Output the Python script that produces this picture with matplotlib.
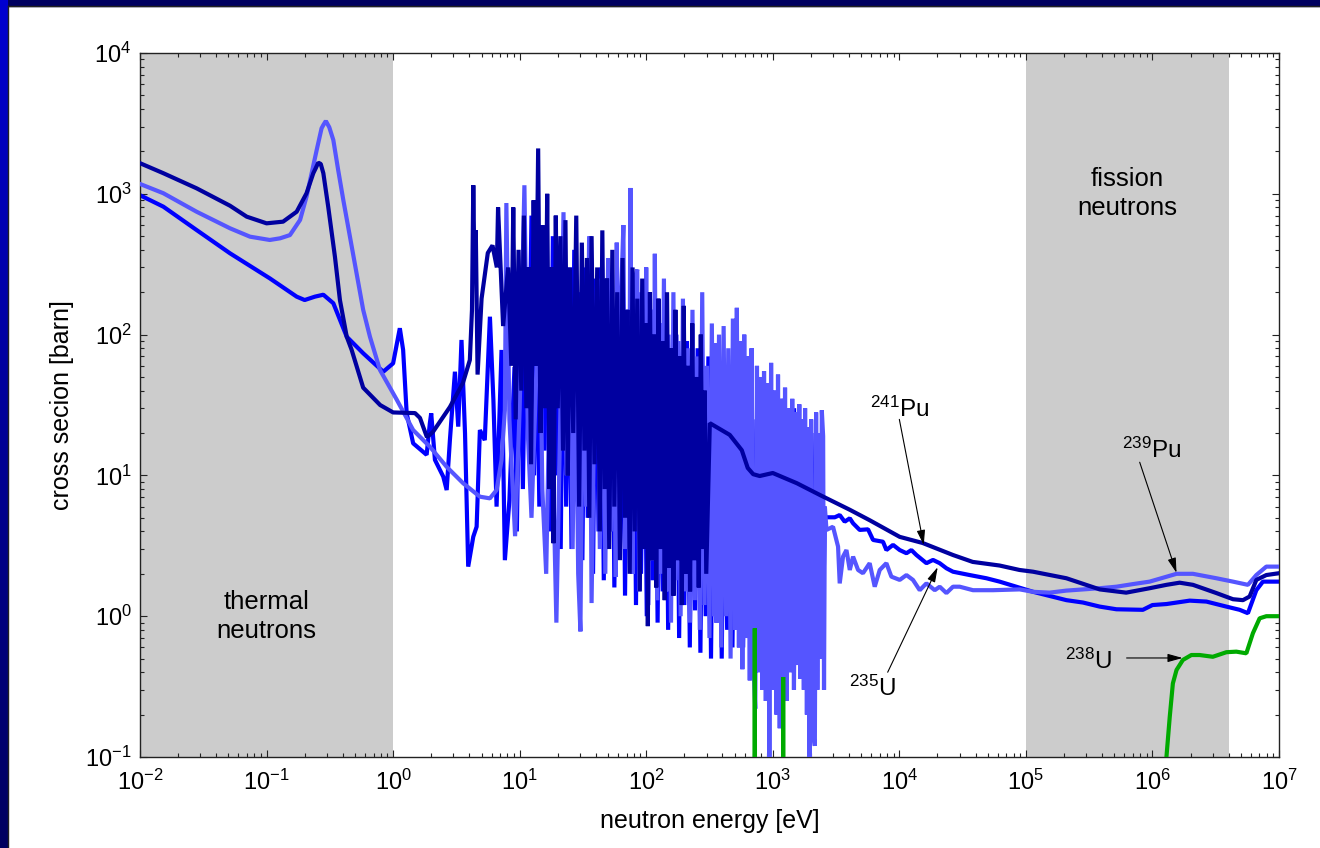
import numpy as np
import matplotlib
matplotlib.use('Agg')
import matplotlib.pyplot as plt
from matplotlib.colors import LinearSegmentedColormap
from matplotlib.patches import Rectangle
from matplotlib.lines import Line2D
from matplotlib.ticker import LogLocator, FixedLocator, LogFormatterSciNotation

plt.rcParams['font.family'] = ['Liberation Sans', 'DejaVu Sans']
plt.rcParams['mathtext.fontset'] = 'custom'
plt.rcParams['mathtext.rm'] = 'Liberation Sans'
plt.rcParams['mathtext.it'] = 'Liberation Sans:italic'
plt.rcParams['mathtext.bf'] = 'Liberation Sans:bold'
plt.rcParams['mathtext.sf'] = 'Liberation Sans'

# fission cross sections: (energy [eV], sigma [barn])
u235 = np.array([
    (0.01, 977), (0.0153, 810), (0.028, 553), (0.0514, 378), (0.106, 251), (0.173, 186),
    (0.2, 176), (0.241, 186), (0.281, 192), (0.337, 167), (0.43, 96.6), (0.581, 73.6),
    (0.836, 54.5), (1.0, 62.5), (1.13, 111), (1.2, 77.8), (1.28, 27.6), (1.44, 16.9),
    (1.84, 14.0), (1.95, 23.4), (2.0, 27.6), (2.14, 12.9), (2.49, 9.8), (2.65, 7.87),
    (2.81, 17.8), (3.08, 54.5), (3.27, 22.2), (3.47, 91.6), (3.7, 19.9), (3.92, 2.25),
    (4.3, 3.67), (4.57, 4.32), (4.85, 21.0), (5.3, 17.8), (5.82, 134), (6.2, 34.4),
    (6.57, 6.0), (7.19, 77.8), (7.64, 2.5), (8.3, 6.7), (9.1, 59),
    (9.5, 4), (10.1, 150), (10.6, 8), (11.2, 200), (11.7, 20), (12.4, 700), (13.0, 10),
    (13.6, 200), (14.3, 6), (15.0, 300), (15.8, 15), (16.6, 250), (17.4, 4), (18.3, 500),
    (19.2, 10), (20.1, 200), (21.1, 3), (22.2, 350), (23.3, 6), (24.5, 150), (25.7, 3),
    (27, 400), (28.4, 8), (29.8, 200), (31.3, 2.5), (32.9, 300), (34.5, 5), (36.2, 500),
    (38, 2), (40, 250), (42, 4), (44, 300), (46.2, 1.8), (48.5, 150), (51, 4), (53.5, 250),
    (56, 1.6), (59, 120), (62, 3), (65, 200), (68, 1.4), (71.5, 100), (75, 2.5), (79, 180),
    (83, 1.2), (87, 90), (91, 2), (96, 150), (101, 1.0), (106, 80), (111, 1.8), (117, 130),
    (123, 0.9), (129, 70), (135, 1.5), (142, 110), (149, 0.8), (157, 60), (165, 1.4),
    (173, 100), (182, 0.7), (191, 55), (200, 1.2), (210, 90), (221, 0.6), (232, 50),
    (243, 1.1), (255, 80), (268, 0.55), (281, 45), (295, 1.0), (310, 70), (325, 0.5),
    (341, 40), (358, 0.9), (376, 60), (395, 0.5), (415, 35), (436, 0.8), (457, 55),
    (480, 0.6), (504, 30), (529, 0.9), (555, 45), (583, 0.6), (612, 30), (643, 0.7),
    (675, 50), (709, 0.5), (744, 25), (781, 0.8), (820, 45), (861, 0.6), (904, 28),
    (950, 0.7), (997, 40), (1047, 0.5), (1100, 25), (1155, 0.8), (1212, 35), (1273, 0.6),
    (1337, 22), (1404, 0.9), (1474, 30), (1548, 0.7), (1625, 20), (1706, 1.0), (1791, 25),
    (1881, 0.8), (1975, 18), (2074, 1.1), (2178, 20), (2250, 1.2), (2400, 12), (2480, 0.8),
    (2580, 5.04), (3090, 5.04), (3380, 5.23), (3700, 4.69), (4060, 4.96), (4310, 4.57),
    (4860, 4.10), (5660, 4.14), (6200, 3.48), (7430, 3.38), (7900, 2.95), (8920, 3.21),
    (10070, 2.95), (11380, 2.80), (12450, 2.95), (13650, 2.72), (16370, 2.38), (18450, 2.51),
    (20840, 2.38), (23550, 2.19), (26550, 2.07), (35970, 1.96), (48750, 1.86), (62000, 1.76),
    (1.14e5, 1.49), (2.09e5, 1.30), (2.83e5, 1.25), (3.83e5, 1.17), (5.19e5, 1.12),
    (8.4e5, 1.11), (1.0e6, 1.20), (1.29e6, 1.22), (1.97e6, 1.29), (2.67e6, 1.27),
    (3.84e6, 1.17), (4.89e6, 1.11), (5.68e6, 1.05), (6.62e6, 1.53), (7.46e6, 1.76), (1e7, 1.76),
])

pu239 = np.array([
    (0.01, 1175), (0.0153, 1009), (0.028, 746), (0.0514, 569), (0.074, 496), (0.106, 470),
    (0.128, 483), (0.153, 509), (0.184, 652), (0.207, 955), (0.227, 1400), (0.249, 2047),
    (0.272, 2917), (0.281, 3080), (0.294, 3290), (0.313, 2970), (0.337, 2410), (0.368, 1476),
    (0.404, 904), (0.456, 496), (0.515, 272), (0.58, 150), (0.656, 96.6), (0.787, 56.1),
    (1.07, 34.4), (1.44, 21.0), (1.95, 16.0), (2.65, 11.5), (3.58, 8.79), (4.85, 7.06),
    (5.82, 6.87), (6.57, 7.87), (7.19, 12.9), (7.64, 29.1), (7.85, 860), (8.3, 25), (9.2, 3.7),
    (10.0, 30), (10.9, 1150), (11.6, 20), (12.4, 5), (13.6, 60), (14.3, 300), (15.1, 8),
    (16.2, 2), (17.7, 150), (18.7, 5), (19.5, 0.9), (21.0, 30), (22.2, 740), (23.5, 10),
    (24.8, 300), (26.2, 3), (27.6, 120), (29.0, 2), (30.2, 0.78), (32.0, 200), (33.5, 6),
    (35.4, 500), (37.0, 1.24), (39.0, 40), (41.0, 250), (43.0, 3), (45.0, 200), (47.5, 2),
    (50, 350), (52.5, 4), (55, 150), (57.5, 1.9), (58.5, 450), (61.5, 10), (63.5, 200),
    (66, 600), (68.5, 3), (71, 150), (73, 5), (75, 1100), (78, 2), (81, 250), (85, 290),
    (88, 1.5), (92, 200), (96, 3), (100, 300), (104, 1.2), (109, 150), (113, 2.5), (117, 375),
    (122, 1.3), (127, 120), (132, 2), (138, 250), (144, 1.5), (150, 100), (157, 0.9),
    (164, 200), (171, 1.8), (179, 90), (187, 1.0), (195, 180), (204, 1.5), (213, 80),
    (222, 0.9), (232, 150), (242, 1.3), (253, 70), (265, 0.8), (277, 200), (289, 1.2),
    (302, 60), (316, 0.7), (330, 120), (345, 1.0), (350, 87), (360, 0.9), (376, 100),
    (392, 0.6), (409, 115), (427, 1.0), (445, 80), (464, 0.5), (484, 130), (505, 0.8),
    (520, 155), (540, 0.6), (560, 90), (575, 0.42), (595, 100), (615, 0.7), (636, 70),
    (658, 0.35), (680, 80), (703, 0.5), (727, 0.22), (750, 60), (775, 0.4), (800, 50),
    (826, 0.3), (853, 55), (881, 0.25), (910, 45), (940, 0.08), (970, 63), (1000, 0.3),
    (1035, 40), (1070, 0.2), (1100, 52), (1135, 0.16), (1170, 35), (1210, 0.3), (1250, 42),
    (1290, 0.25), (1335, 30), (1380, 0.4), (1425, 35), (1470, 0.3), (1520, 28), (1570, 0.45),
    (1620, 32), (1650, 0.36), (1700, 25), (1760, 0.3), (1800, 30), (1860, 0.2), (1920, 22),
    (1950, 0.05), (2010, 25), (2080, 0.15), (2150, 0.12), (2200, 28), (2250, 0.3), (2320, 20),
    (2400, 0.5), (2440, 29), (2500, 19), (2540, 0.3), (2580, 6), (2656, 4.10), (2992, 4.32),
    (3280, 3.12), (3380, 1.71), (3590, 2.65), (3820, 2.95), (4060, 2.13), (4310, 2.65),
    (4720, 2.13), (5160, 2.02), (5830, 2.38), (6390, 1.62), (7000, 2.13), (7900, 2.38),
    (8650, 1.91), (10070, 1.81), (11380, 1.96), (12820, 1.81), (14490, 1.53), (16370, 1.71),
    (19050, 1.53), (20840, 1.62), (23550, 1.46), (26550, 1.62), (30000, 1.62), (38200, 1.53),
    (54950, 1.53), (89300, 1.55), (1.14e5, 1.49), (1.54e5, 1.47), (2.09e5, 1.52),
    (2.83e5, 1.55), (3.83e5, 1.58), (5.19e5, 1.62), (7.0e5, 1.69), (9.5e5, 1.76),
    (1.55e6, 2.0), (2.09e6, 2.0), (3.2e6, 1.86), (4.33e6, 1.76), (5.68e6, 1.67),
    (6.62e6, 1.96), (7.94e6, 2.25), (1e7, 2.25),
])

pu241 = np.array([
    (0.01, 1650), (0.0153, 1400), (0.028, 1094), (0.0514, 823), (0.0697, 688), (0.1, 617),
    (0.135, 634), (0.173, 746), (0.207, 1009), (0.234, 1400), (0.245, 1524), (0.256, 1663),
    (0.268, 1630), (0.281, 1400), (0.307, 810), (0.347, 357), (0.38, 176), (0.43, 96.6),
    (0.47, 78), (0.58, 42), (0.79, 31.6), (1.0, 28), (1.49, 27.7), (1.63, 25.6), (1.85, 18.7),
    (2.06, 20.3), (2.81, 30.6), (3.56, 45.3), (4.04, 66), (4.2, 150), (4.3, 1150), (4.4, 250),
    (4.5, 550), (4.65, 52), (5.0, 180), (5.6, 380), (6.1, 430), (6.6, 300), (6.75, 800),
    (7.4, 115), (8.1, 300), (8.6, 60), (8.9, 800), (9.3, 25), (9.8, 400), (10.3, 40),
    (10.8, 700), (11.3, 30), (11.8, 300), (12.3, 12), (12.9, 900), (13.4, 60), (14.0, 2100),
    (14.6, 20), (15.2, 600), (15.9, 30), (16.5, 1000), (17.2, 8), (17.8, 300), (18.5, 3.3),
    (19.3, 700), (20, 30), (21, 500), (22, 15), (23, 650), (24, 10), (25, 300), (26.5, 20),
    (28, 700), (29.5, 6), (31, 450), (32.5, 15), (34, 350), (35.5, 5), (37, 500), (39, 12),
    (41, 300), (43, 4), (45, 550), (47, 8), (49, 250), (51, 3), (54, 400), (56, 6), (59, 200),
    (62, 2.5), (65, 350), (68, 5), (71, 150), (74, 2), (78, 300), (81, 4), (85, 180),
    (89, 1.5), (93, 250), (97, 3), (101, 120), (103, 0.85), (107, 200), (111, 2.5),
    (116, 100), (120, 1.6), (125, 180), (130, 3), (135, 90), (140, 1.3), (146, 200),
    (152, 2.2), (158, 80), (164, 1.4), (170, 150), (177, 2.5), (184, 70), (191, 1.2),
    (198, 160), (206, 2), (214, 60), (222, 1.5), (231, 120), (240, 2.5), (250, 50),
    (260, 1.6), (270, 100), (280, 3), (290, 40), (298, 2), (318, 23.5), (457, 19.4),
    (569, 15.1), (634, 11.3), (700, 10.2), (788, 9.9), (1000, 10.4), (1550, 8.8),
    (2400, 7.2), (4060, 5.7), (5840, 4.8), (10070, 3.66), (15300, 3.31), (26550, 2.72),
    (38000, 2.43), (62000, 2.29), (89000, 2.13), (1.14e5, 2.07), (2.09e5, 1.86),
    (3.83e5, 1.55), (6.2e5, 1.47), (9.5e5, 1.58), (1.29e6, 1.67), (1.64e6, 1.73),
    (2.09e6, 1.67), (3.2e6, 1.46), (4.33e6, 1.32), (5.19e6, 1.30), (5.86e6, 1.38),
    (6.62e6, 1.81), (7.94e6, 1.96), (1e7, 2.02),
])

u238 = np.array([
    (600, 1e-3), (715, 1e-3), (721, 0.82), (727, 1e-3), (1200, 1e-3), (1208, 0.37),
    (1216, 1e-3), (1.2e6, 1e-3), (1.29e6, 0.1), (1.37e6, 0.193), (1.45e6, 0.333),
    (1.55e6, 0.415), (1.74e6, 0.489), (2.03e6, 0.53), (2.36e6, 0.53), (3.0e6, 0.515),
    (3.84e6, 0.555), (4.6e6, 0.56), (5.52e6, 0.545), (6.22e6, 0.757), (7.03e6, 0.966),
    (7.94e6, 1.0), (1e7, 1.0),
])

thermal_band = (1e-2, 1.0)
fission_band = (1e5, 4e6)
x_decades = [1e-2, 1e-1, 1e0, 1e1, 1e2, 1e3, 1e4, 1e5, 1e6, 1e7]
y_decades = [1e-1, 1e0, 1e1, 1e2, 1e3, 1e4]

fig = plt.figure(figsize=(13.2, 8.48), dpi=100)

# slide frame: gradient strip on the left, dark band on top
frame_cmap = LinearSegmentedColormap.from_list('frame', ['#000060', '#0000d0'])
fig.figimage(np.linspace(0, 1, 848)[::-1].reshape(-1, 1).repeat(8, axis=1),
             xo=0, yo=0, cmap=frame_cmap, zorder=0)
fig.patches.append(Rectangle((0, 1 - 6 / 848), 1, 6 / 848, transform=fig.transFigure,
                             color='#000060', zorder=0))
fig.lines.append(Line2D([8 / 1320, 8 / 1320], [0, 1 - 6 / 848], transform=fig.transFigure,
                        color='#222222', lw=1))
fig.lines.append(Line2D([8 / 1320, 1], [1 - 6 / 848, 1 - 6 / 848], transform=fig.transFigure,
                        color='#222222', lw=1))

ax = fig.add_axes([140 / 1320, 91 / 848, 1139 / 1320, 704 / 848])
ax.set_xscale('log')
ax.set_yscale('log')

ax.axvspan(*thermal_band, color='#cccccc', lw=0, zorder=0)
ax.axvspan(*fission_band, color='#cccccc', lw=0, zorder=0)

lw = 3.0
ax.plot(u235[:, 0], u235[:, 1], color='#0000ff', lw=lw, zorder=2, solid_joinstyle='bevel')
ax.plot(pu239[:, 0], pu239[:, 1], color='#5555ff', lw=lw, zorder=3, solid_joinstyle='bevel')
ax.plot(pu241[:, 0], pu241[:, 1], color='#0000a0', lw=lw, zorder=4, solid_joinstyle='bevel')
ax.plot(u238[:, 0], u238[:, 1], color='#00aa00', lw=lw, zorder=5, solid_joinstyle='bevel')

ax.set_xlim(1e-2, 1e7)
ax.set_ylim(1e-1, 1e4)
ax.xaxis.set_major_locator(FixedLocator(x_decades))
ax.xaxis.set_major_formatter(LogFormatterSciNotation())
ax.xaxis.set_minor_locator(LogLocator(base=10, subs=np.arange(2, 10), numticks=200))
ax.yaxis.set_major_locator(FixedLocator(y_decades))
ax.yaxis.set_major_formatter(LogFormatterSciNotation())
ax.yaxis.set_minor_locator(LogLocator(base=10, subs=np.arange(2, 10), numticks=200))

ax.tick_params(which='both', direction='in', top=True, right=True, width=0.8, color='#222222')
ax.tick_params(which='major', length=5, labelsize=17)
ax.tick_params(axis='x', which='major', pad=9)
ax.tick_params(axis='y', which='major', pad=6)
ax.tick_params(which='minor', length=3)
for sp in ax.spines.values():
    sp.set_linewidth(1.0)
    sp.set_color('#222222')

ax.set_xlabel('neutron energy [eV]', fontsize=18, labelpad=10)
ax.set_ylabel('cross secion [barn]', fontsize=18, labelpad=8)

fs = 18.5
ax.text(0.1, 1.0, 'thermal\nneutrons', ha='center', va='center', fontsize=fs, linespacing=1.25)
ax.text(6.3e5, 1000, 'fission\nneutrons', ha='center', va='center', fontsize=fs, linespacing=1.25)

fa = 17.5
arrow = dict(arrowstyle='-|>,head_length=0.9,head_width=0.25', color='black', lw=0.8,
             shrinkA=0, shrinkB=0, mutation_scale=10)
ax.text(1e4, 26, r'$^{241}$Pu', ha='center', va='baseline', fontsize=fa, zorder=7)
ax.annotate('', xy=(15600, 3.2), xytext=(1e4, 25), arrowprops=arrow, zorder=7)
ax.text(6170, 0.271, r'$^{235}$U', ha='center', va='baseline', fontsize=fa, zorder=7)
ax.annotate('', xy=(20100, 2.23), xytext=(8090, 0.40), arrowprops=arrow, zorder=7)
ax.text(9.86e5, 13.3, r'$^{239}$Pu', ha='center', va='baseline', fontsize=fa, zorder=7)
ax.annotate('', xy=(1.55e6, 2.03), xytext=(7.93e5, 12.4), arrowprops=arrow, zorder=7)
ax.text(3.13e5, 0.42, r'$^{238}$U', ha='center', va='baseline', fontsize=fa, zorder=7)
ax.annotate('', xy=(1.73e6, 0.505), xytext=(6.25e5, 0.505), arrowprops=arrow, zorder=7)

fig.savefig('out.png', dpi=100)
